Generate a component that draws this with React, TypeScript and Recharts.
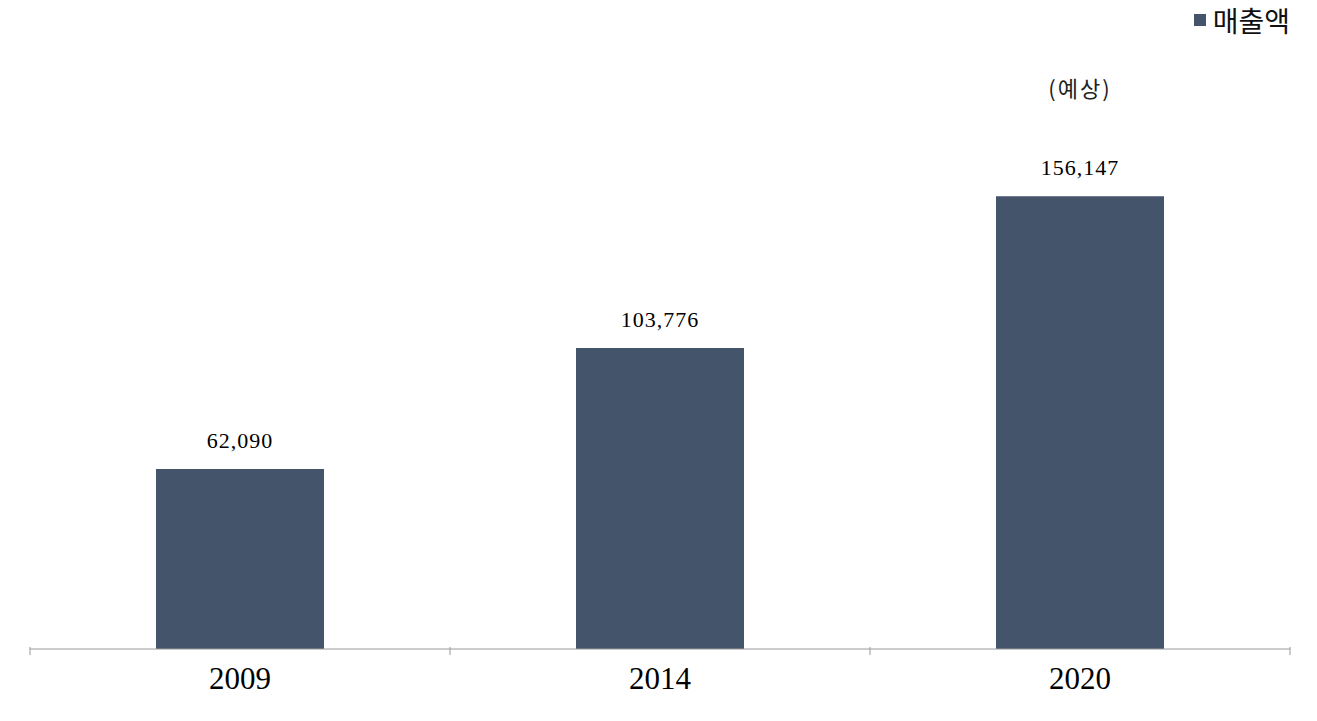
import { BarChart, Bar, XAxis, YAxis, LabelList } from "recharts";

const years = ["2009", "2014", "2020"];
const sales = [62090, 103776, 156147];
const notes = ["", "", "(예상)"];
const legendName = "매출액";

const BAR_COLOR = "#44546A";
const AXIS_COLOR = "#999";

const data = years.map((year, i) => ({
  year,
  sales: sales[i],
  note: notes[i],
}));

const fmt = (v: any) => Number(v).toLocaleString("en-US");

// tick label at the band centre, tick marks on the band edges
const EdgeTick = (props: any) => {
  const { x, y, payload, index } = props;
  const half = payload.offset || 0;
  const top = y - 20;
  return (
    <g>
      <line x1={x - half} x2={x - half} y1={top} y2={top + 8} stroke={AXIS_COLOR} />
      {index === years.length - 1 && (
        <line x1={x + half} x2={x + half} y1={top} y2={top + 8} stroke={AXIS_COLOR} />
      )}
      <text
        x={x}
        y={y}
        dy="0.71em"
        textAnchor="middle"
        fontFamily="Liberation Serif"
        fontSize={31}
        fill="#000"
      >
        {payload.value}
      </text>
    </g>
  );
};

function App() {
  return (
    <div style={{ position: "absolute", left: 0, top: 0, width: 1317, height: 721 }}>
      <BarChart
        width={1317}
        height={721}
        data={data}
        margin={{ top: 127, right: 27, bottom: 0, left: 30 }}
        barCategoryGap="30%"
      >
        <XAxis
          dataKey="year"
          height={72}
          stroke={AXIS_COLOR}
          tickLine={false}
          tickSize={6}
          tickMargin={12}
          tick={<EdgeTick />}
        />
        <YAxis hide domain={[0, 180000]} />
        <Bar dataKey="sales" fill={BAR_COLOR} isAnimationActive={false}>
          <LabelList
            dataKey="sales"
            position="top"
            offset={21}
            formatter={fmt}
            style={{ fontFamily: "Liberation Serif", fontSize: 22, fill: "#000", letterSpacing: 1 }}
          />
          <LabelList
            dataKey="note"
            position="top"
            offset={99}
            style={{ fontFamily: "Noto Sans CJK KR", fontSize: 22, fill: "#222", letterSpacing: 2 }}
          />
        </Bar>
      </BarChart>
      <div
        style={{
          position: "absolute",
          top: 0,
          right: 27,
          display: "flex",
          alignItems: "center",
          fontFamily: "Noto Sans CJK KR",
          fontSize: 28,
          color: "#111",
        }}
      >
        <span style={{ width: 12, height: 12, background: BAR_COLOR, marginRight: 7 }} />
        {legendName}
      </div>
    </div>
  );
}

export default App;
